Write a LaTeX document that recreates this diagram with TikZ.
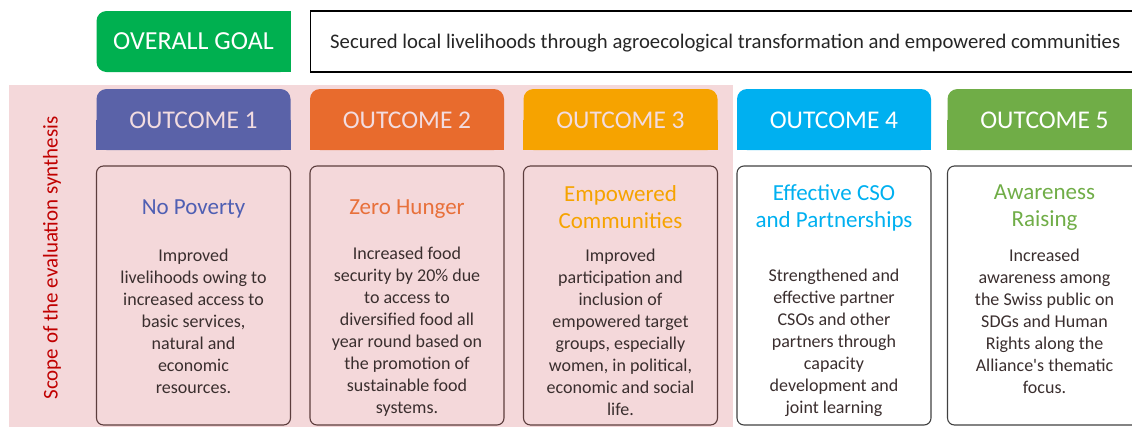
\documentclass[tikz,border=0pt]{standalone}
\usepackage{fontspec}
\setmainfont{Carlito}
\definecolor{goalgreen}{HTML}{00B050}
\definecolor{oone}{HTML}{5A62A8}
\definecolor{otwo}{HTML}{E86B2D}
\definecolor{othree}{HTML}{F6A300}
\definecolor{ofour}{HTML}{00B0F0}
\definecolor{ofive}{HTML}{70AD47}
\definecolor{scopepink}{HTML}{F4D8DA}
\definecolor{scopered}{HTML}{C00000}
\definecolor{paletext}{HTML}{F2DCE0}
\definecolor{tone}{HTML}{4F5FB3}
\definecolor{ttwo}{HTML}{E8703A}
\definecolor{bodytext}{HTML}{3A2E2E}
\definecolor{pinkedge}{HTML}{5C3D3D}
\definecolor{greyedge}{HTML}{404040}
\tikzset{
  hdrshape/.style={fill=#1, rounded corners=10pt, minimum width=194pt, minimum height=61pt, inner sep=0pt},
  hdrtext/.style={text=#1, inner sep=0pt, font=\fontsize{25.5}{30}\selectfont},
  cbox/.style={draw=#1, line width=1.1pt, rounded corners=7pt, minimum width=194pt, minimum height=259pt, inner sep=0pt},
  titletext/.style={text=#1, align=center, inner sep=0pt, font=\fontsize{23}{27}\selectfont},
  bodyblock/.style={text=bodytext, align=center, inner sep=0pt, font=\fontsize{18}{22}\selectfont},
}
\begin{document}
\begin{tikzpicture}[x=1pt,y=-1pt]
\useasboundingbox (0,0) rectangle (1132,426);
\clip (0,0) rectangle (1132,426);
% scope background
\fill[scopepink] (9,85) rectangle (733,440);
\node[rotate=90, text=scopered, font=\fontsize{21}{25}\selectfont] (scope) at (52,258) {Scope of the evaluation synthesis};
% overall goal
\node[hdrshape=goalgreen] (g) at (193.5,41.5) {};
\fill[goalgreen] (g.north) rectangle (g.south east);
\node[hdrtext=white, font=\fontsize{26}{30}\selectfont] (gt) at (g) {OVERALL GOAL};
\node[draw=black, line width=1.2pt, minimum width=850pt, minimum height=61pt, anchor=west, inner sep=0pt] (gb) at (310,41.5) {};
\node[anchor=west, inner sep=0pt, text=black!85, font=\fontsize{20.7}{24}\selectfont] (gbt) at (330,43) {Secured local livelihoods through agroecological transformation and empowered communities};
% headers
\node[hdrshape=oone] (h1) at (193.5,119.5) {};
\fill[oone] (h1.west) rectangle (h1.south east);
\node[hdrtext=paletext] (h1t) at ([yshift=-1pt]h1) {OUTCOME 1};
\node[hdrshape=otwo] (h2) at (407,119.5) {};
\fill[otwo] (h2.west) rectangle (h2.south east);
\node[hdrtext=paletext] (h2t) at ([yshift=-1pt]h2) {OUTCOME 2};
\node[hdrshape=othree] (h3) at (620.5,119.5) {};
\fill[othree] (h3.west) rectangle (h3.south east);
\node[hdrtext=paletext] (h3t) at ([yshift=-1pt]h3) {OUTCOME 3};
\node[hdrshape=ofour] (h4) at (834,119.5) {};
\fill[ofour] (h4.west) rectangle (h4.south east);
\node[hdrtext=white] (h4t) at ([yshift=-1pt]h4) {OUTCOME 4};
\node[hdrshape=ofive] (h5) at (1044.5,119.5) {};
\fill[ofive] (h5.west) rectangle (h5.south east);
\node[hdrtext=white] (h5t) at ([yshift=-1pt]h5) {OUTCOME 5};
% content boxes
\node[cbox=pinkedge] (c1) at (193.5,295.5) {};
\node[cbox=pinkedge] (c2) at (407,295.5) {};
\node[cbox=pinkedge] (c3) at (620.5,295.5) {};
\node[cbox=greyedge] (c4) at (834,295.5) {};
\node[cbox=greyedge] (c5) at (1044.5,295.5) {};
% titles
\node[titletext=tone] (t1) at (193.5,209) {No Poverty};
\node[titletext=ttwo] (t2) at (407,209) {Zero Hunger};
\node[titletext=othree] (t3) at (620.5,207.5) {Empowered\\Communities};
\node[titletext=ofour] (t4) at (834,207.5) {Effective CSO\\and Partnerships};
\node[titletext=ofive] (t5) at (1044.5,207.5) {Awareness\\Raising};
% bodies
\node[bodyblock] (b1) at (193.5,321) {Improved\\livelihoods owing to\\increased access to\\basic services,\\natural and\\economic\\resources.};
\node[bodyblock] (b2) at (407,332) {Increased food\\security by 20\% due\\to access to\\diversified food all\\year round based on\\the promotion of\\sustainable food\\systems.};
\node[bodyblock] (b3) at (620.5,332) {Improved\\participation and\\inclusion of\\empowered target\\groups, especially\\women, in political,\\economic and social\\life.};
\node[bodyblock] (b4) at (834,343) {Strengthened and\\effective partner\\CSOs and other\\partners through\\capacity\\development and\\joint learning};
\node[bodyblock] (b5) at (1044.5,321) {Increased\\awareness among\\the Swiss public on\\SDGs and Human\\Rights along the\\Alliance\textquotesingle s thematic\\focus.};
\end{tikzpicture}
\end{document}
